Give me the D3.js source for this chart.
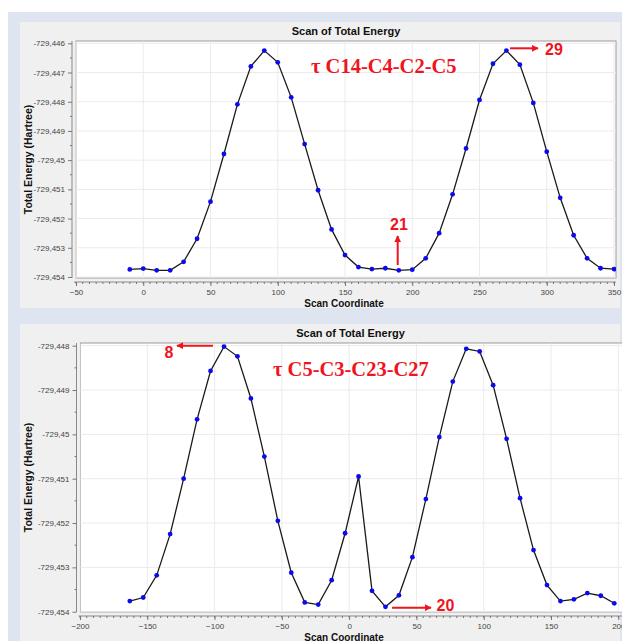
<!DOCTYPE html>
<html>
<head>
<meta charset="utf-8">
<script src="https://cdn.jsdelivr.net/npm/d3@7"></script>
<style>
  body { margin: 0; background: #fff; }
  svg { display: block; }
</style>
</head>
<body>
<script>
const w = 622; // width
const h = 641; // height

// scan 1 : tau C14-C4-C2-C5
const topScan = [-10, 0, 10, 20, 30, 40, 50, 60, 70, 80, 90, 100, 110, 120, 130, 140, 150, 160, 170,
    180, 190, 200, 210, 220, 230, 240, 250, 260, 270, 280, 290, 300, 310, 320, 330, 340, 350];
const topEnergy = [-729.45374, -729.45371, -729.45377, -729.45377, -729.45348, -729.45269, -729.45142,
    -729.44979, -729.44809, -729.44679, -729.44625, -729.44665, -729.44785, -729.44945, -729.45103,
    -729.45237, -729.45325, -729.45366, -729.45373, -729.45370, -729.45377, -729.45375, -729.45336,
    -729.45250, -729.45117, -729.44960, -729.44794, -729.44670, -729.44625, -729.44673, -729.44804,
    -729.44971, -729.45129, -729.45257, -729.45336, -729.45370, -729.45373];
const topXTicks = [-50, 0, 50, 100, 150, 200, 250, 300, 350];
const topYTicks = [-729.454, -729.453, -729.452, -729.451, -729.45, -729.449, -729.448, -729.447, -729.446];

// scan 2 : tau C5-C3-C23-C27
const botScan = [-163, -153, -143, -133, -123, -113, -103, -93, -83, -73, -63, -53, -43, -33, -23, -13,
    -3, 7, 17, 27, 37, 47, 57, 67, 77, 87, 97, 107, 117, 127, 137, 147, 157, 167, 177, 187, 197];
const botEnergy = [-729.45376, -729.45368, -729.45318, -729.45225, -729.45100, -729.44966, -729.44857,
    -729.44802, -729.44824, -729.44919, -729.45050, -729.45195, -729.45312, -729.45379, -729.45384,
    -729.45329, -729.45223, -729.45095, -729.45353, -729.45389, -729.45363, -729.45277, -729.45146,
    -729.45006, -729.44881, -729.44807, -729.44813, -729.44889, -729.45010, -729.45144, -729.45261,
    -729.45340, -729.45376, -729.45372, -729.45358, -729.45364, -729.45381];
const botXTicks = [-200, -150, -100, -50, 0, 50, 100, 150, 200];
const botYTicks = [-729.454, -729.453, -729.452, -729.451, -729.45, -729.449, -729.448];

const fmtY = (d) => String(+d.toFixed(4)).replace('.', ',');

//Create SVG element
let svg = d3.select("body")
    .append("svg")
    .attr('width', w)
    .attr('height', h);

// outer frame
svg.append('rect')
    .attr('x', 8).attr('y', 12)
    .attr('width', w - 8).attr('height', h - 12)
    .attr('fill', '#dfe4f1');

let defs = svg.append('defs');
defs.append('marker')
    .attr('id', 'head')
    .attr('viewBox', '0 0 10 10')
    .attr('refX', 9).attr('refY', 5)
    .attr('markerWidth', 7).attr('markerHeight', 7)
    .attr('markerUnits', 'userSpaceOnUse')
    .attr('orient', 'auto')
    .append('path')
    .attr('d', 'M0,0L10,5L0,10z')
    .attr('fill', '#f0141e');

function drawChart(c) {
    let g = svg.append('g');

    // panel
    g.append('rect')
        .attr('x', 20).attr('y', c.panelTop)
        .attr('width', 600).attr('height', c.panelBottom - c.panelTop)
        .attr('fill', '#f0f0f0');

    let x = d3.scaleLinear().domain(c.xDomain).range(c.xRange);
    let y = d3.scaleLinear().domain(c.yDomain).range(c.yRange);

    // plot area
    g.append('rect')
        .attr('x', c.plot[0]).attr('y', c.plot[1])
        .attr('width', c.plot[2] - c.plot[0]).attr('height', c.plot[3] - c.plot[1])
        .attr('fill', '#fff')
        .attr('stroke', '#9a9a9a')
        .attr('stroke-width', 1);

    // grid
    g.append('g').selectAll('line')
        .data(c.xTicks)
        .enter()
        .append('line')
        .attr('x1', (d) => x(d)).attr('x2', (d) => x(d))
        .attr('y1', c.plot[1] + 0.5).attr('y2', c.plot[3])
        .attr('stroke', '#ebebeb');
    g.append('g').selectAll('line')
        .data(c.yTicks)
        .enter()
        .append('line')
        .attr('x1', c.plot[0]).attr('x2', c.plot[2])
        .attr('y1', (d) => y(d)).attr('y2', (d) => y(d))
        .attr('stroke', '#ebebeb');

    // x axis
    let xMinor = d3.range(c.xDomain[0], c.xDomain[1] + 0.1, 5);
    let axisX = d3.axisBottom(x).tickValues(c.xTicks).tickSize(4).tickPadding(3).tickSizeOuter(0);
    let gX = g.append('g')
        .attr('transform', `translate(0,${c.xAxisY})`)
        .call(axisX);
    gX.append('g').selectAll('line')
        .data(xMinor)
        .enter()
        .append('line')
        .attr('x1', (d) => x(d)).attr('x2', (d) => x(d))
        .attr('y1', 0).attr('y2', 2)
        .attr('stroke', '#777');

    // y axis
    let yMinor = d3.range(0, c.yTicks.length - 1).map((i) => (c.yTicks[i] + c.yTicks[i + 1]) / 2);
    let axisY = d3.axisLeft(y).tickValues(c.yTicks).tickFormat(fmtY).tickSize(4).tickPadding(3).tickSizeOuter(0);
    let gY = g.append('g')
        .attr('transform', `translate(${c.yAxisX},0)`)
        .call(axisY);
    gY.append('g').selectAll('line')
        .data(yMinor)
        .enter()
        .append('line')
        .attr('x1', -2).attr('x2', 0)
        .attr('y1', (d) => y(d)).attr('y2', (d) => y(d))
        .attr('stroke', '#777');

    [gX, gY].forEach((a) => {
        a.select('.domain').attr('stroke', '#888');
        a.selectAll('.tick line').attr('stroke', '#777');
        a.selectAll('.tick text')
            .attr('fill', '#444')
            .style('font-family', '"Liberation Sans", Arial, sans-serif')
            .style('font-size', '8px');
    });
    gX.select('.domain').attr('d', `M${c.plot[0] - 2},0H${c.plot[2]}`);
    gY.select('.domain').attr('d', `M0,${c.plot[1]}V${c.plot[3]}`);

    // line + points
    let pts = c.scan.map((s, i) => [s, c.energy[i]]);
    let clipId = 'clip' + c.panelTop;
    g.append('clipPath').attr('id', clipId)
        .append('rect')
        .attr('x', c.plot[0]).attr('y', c.plot[1])
        .attr('width', c.plot[2] - c.plot[0]).attr('height', c.plot[3] - c.plot[1]);
    let data = g.append('g').attr('clip-path', `url(#${clipId})`);
    data.append('path')
        .datum(pts)
        .attr('fill', 'none')
        .attr('stroke', '#1a1a1a')
        .attr('stroke-width', 1.3)
        .attr('d', d3.line().x((d) => x(d[0])).y((d) => y(d[1])));
    data.selectAll('circle')
        .data(pts)
        .enter()
        .append('circle')
        .attr('cx', (d) => x(d[0]))
        .attr('cy', (d) => y(d[1]))
        .attr('r', 2.4)
        .attr('fill', '#0a0aee');

    // title
    g.append('text')
        .attr('x', c.titleX).attr('y', c.panelTop + 12.5)
        .attr('text-anchor', 'middle')
        .style('font-family', '"Liberation Sans", Arial, sans-serif')
        .style('font-size', '11px')
        .style('font-weight', 'bold')
        .attr('fill', '#111')
        .text('Scan of Total Energy');

    // axis labels
    g.append('text')
        .attr('x', 344).attr('y', c.xLabelY)
        .attr('text-anchor', 'middle')
        .style('font-family', '"Liberation Sans", Arial, sans-serif')
        .style('font-size', '10px')
        .style('font-weight', 'bold')
        .attr('fill', '#111')
        .text('Scan Coordinate');
    g.append('text')
        .attr('transform', `translate(${c.yLabelX},${(c.plot[1] + c.plot[3]) / 2}) rotate(-90)`)
        .attr('text-anchor', 'middle')
        .style('font-family', '"Liberation Sans", Arial, sans-serif')
        .style('font-size', '10.5px')
        .style('font-weight', 'bold')
        .attr('fill', '#111')
        .text('Total Energy (Hartree)');

    // annotations
    g.append('text')
        .attr('x', c.tau[0]).attr('y', c.tau[1])
        .style('font-family', '"Liberation Serif", "Times New Roman", serif')
        .style('font-size', '20.5px')
        .style('font-weight', 'bold')
        .attr('fill', '#f0141e')
        .text(c.tauText);
    c.marks.forEach((m) => {
        g.append('line')
            .attr('x1', m.from[0]).attr('y1', m.from[1])
            .attr('x2', m.to[0]).attr('y2', m.to[1])
            .attr('stroke', '#f0141e')
            .attr('stroke-width', 2)
            .attr('marker-end', 'url(#head)');
        g.append('text')
            .attr('x', m.label[0]).attr('y', m.label[1])
            .style('font-family', '"Liberation Sans", Arial, sans-serif')
            .style('font-size', '16px')
            .style('font-weight', 'bold')
            .attr('fill', '#f0141e')
            .text(m.text);
    });
}

drawChart({
    panelTop: 22, panelBottom: 308,
    plot: [76, 41, 616, 278],
    xDomain: [-50, 350], xRange: [76, 614],
    yDomain: [-729.454, -729.446], yRange: [277, 43.3],
    xTicks: topXTicks, yTicks: topYTicks,
    xAxisY: 282, yAxisX: 72,
    scan: topScan, energy: topEnergy,
    titleX: 346, xLabelY: 306.5, yLabelX: 32,
    tau: [311, 72.5], tauText: 'τ C14-C4-C2-C5',
    marks: [
        {from: [510, 48.3], to: [538, 48.3], label: [545, 54.5], text: '29'},
        {from: [397.7, 265], to: [397.7, 236], label: [390, 230], text: '21'}
    ]
});

drawChart({
    panelTop: 324, panelBottom: h + 10,
    plot: [80.5, 343, 640, 612],
    xDomain: [-200, 200], xRange: [80, 618.3],
    yDomain: [-729.454, -729.448], yRange: [611.7, 345.7],
    xTicks: botXTicks, yTicks: botYTicks,
    xAxisY: 616, yAxisX: 76.5,
    scan: botScan, energy: botEnergy,
    titleX: 350.5, xLabelY: 640.5, yLabelX: 32,
    tau: [273, 376], tauText: 'τ C5-C3-C23-C27',
    marks: [
        {from: [213, 345.7], to: [177, 345.7], label: [164.5, 357.5], text: '8'},
        {from: [392, 607.7], to: [431, 607.7], label: [436.5, 611], text: '20'}
    ]
});
</script>
</body>
</html>
